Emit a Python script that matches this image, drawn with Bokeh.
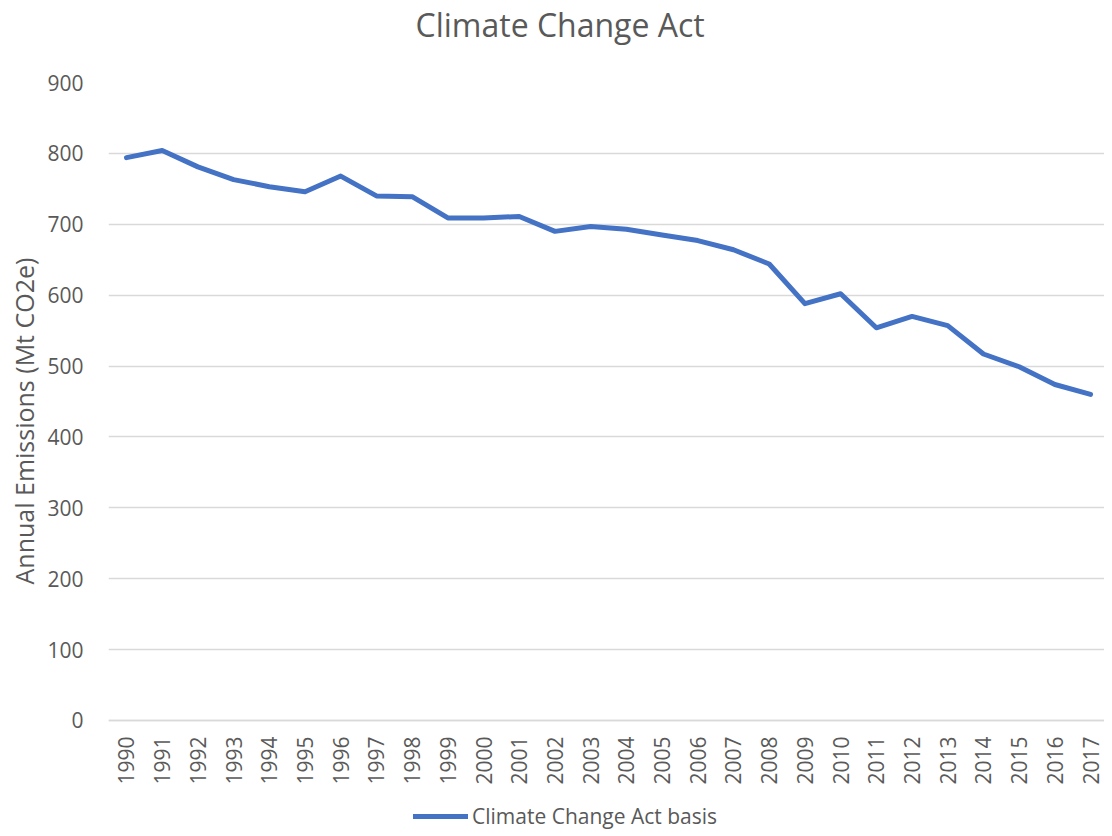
import math
from bokeh.plotting import figure
from bokeh.models import FixedTicker, Legend, LegendItem, Title, Range1d
from bokeh.embed import file_html
from bokeh.resources import INLINE

# ---- data ----
years = list(range(1990, 2018))
emissions = [794, 804, 781, 763, 753, 746, 768, 740, 739, 709,
             709, 711, 690, 697, 693, 685, 677, 664, 644, 588,
             602, 554, 570, 557, 517, 499, 474, 460]
y_ticks = [0, 100, 200, 300, 400, 500, 600, 700, 800, 900]
title_text = "Climate Change Act"
series_name = "Climate Change Act basis"
y_label = "Annual Emissions (Mt CO2e)"

FONT = "Open Sans"
TXT = "#595959"
GRID = "#D9D9D9"
BLUE = "#4472C4"

# frame reaches down to the bottom so that the x axis (pinned at y=0)
# and the legend sit inside it
p = figure(frame_width=996, frame_height=748,
           min_border_left=103, min_border_right=0,
           min_border_top=80, min_border_bottom=0,
           x_range=Range1d(1989.496, 2017.39), y_range=Range1d(-155.2, 900),
           output_backend="svg", toolbar_location=None)
p.outline_line_color = None
p.background_fill_color = "white"
p.border_fill_color = "white"

p.xgrid.grid_line_color = None
p.ygrid.grid_line_color = GRID
p.ygrid.grid_line_width = 1.5
p.ygrid.ticker = FixedTicker(ticks=y_ticks)

p.yaxis.ticker = FixedTicker(ticks=y_ticks)
p.yaxis.axis_line_color = None
p.yaxis.major_tick_line_color = None
p.yaxis.minor_tick_line_color = None
p.yaxis.major_label_standoff = 19
p.yaxis.major_label_text_font = FONT
p.yaxis.major_label_text_font_size = "21px"
p.yaxis.major_label_text_color = TXT

p.xaxis.ticker = FixedTicker(ticks=years)
p.xaxis.fixed_location = 0
p.xaxis.axis_line_color = GRID
p.xaxis.axis_line_width = 1.5
p.xaxis.major_tick_line_color = None
p.xaxis.minor_tick_line_color = None
p.xaxis.major_label_orientation = math.pi / 2
p.xaxis.major_label_standoff = 10
p.xaxis.major_label_text_font = FONT
p.xaxis.major_label_text_font_size = "21px"
p.xaxis.major_label_text_color = TXT

r = p.line(years, emissions, line_width=5, line_color=BLUE,
           line_cap="round", line_join="round")

# spacer between frame and title (closest to frame)
spacer = Title(text=" ", standoff=34, text_font_size="1px")
p.add_layout(spacer, "above")

title = Title(text=title_text, align="left", offset=307, standoff=0,
              text_font=FONT, text_font_size="32px",
              text_font_style="normal", text_color=TXT)
p.add_layout(title, "above")

ylab = Title(text=y_label, align="left", offset=246, standoff=8,
             text_font=FONT, text_font_size="25px",
             text_font_style="normal", text_color=TXT)
p.add_layout(ylab, "left")

legend = Legend(items=[LegendItem(label=series_name, renderers=[r])],
                location=(305, 0), orientation="horizontal",
                border_line_color=None, background_fill_alpha=0,
                padding=0, margin=0, glyph_width=55, label_standoff=4,
                label_text_font=FONT, label_text_font_size="21px",
                label_text_color=TXT)
p.add_layout(legend)

open("out.html", "w").write(file_html(p, INLINE))
